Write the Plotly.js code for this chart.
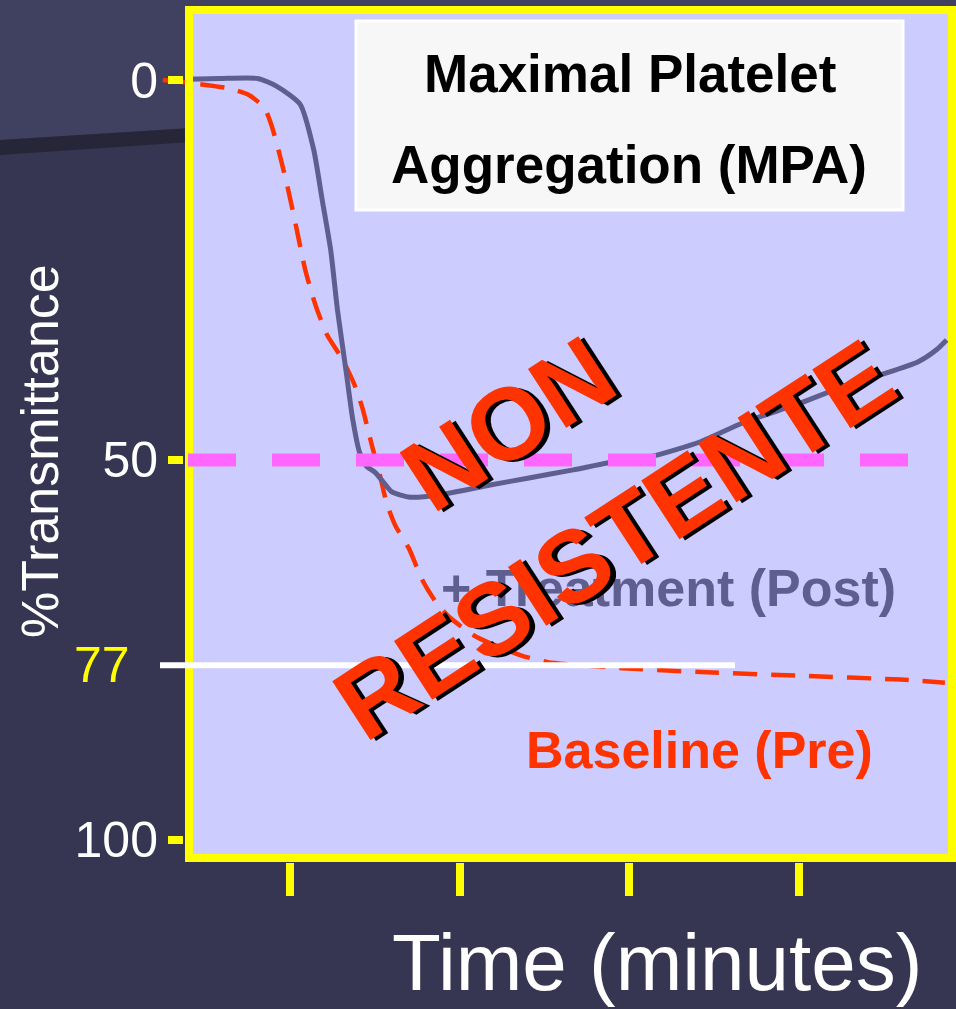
<!DOCTYPE html>
<html>
<head>
<meta charset="utf-8">
<script src="https://cdn.plot.ly/plotly-3.0.1.min.js"></script>
<style>
  html, body { margin: 0; padding: 0; background: #363552; }
  #chart { width: 956px; height: 1009px; }
</style>
</head>
<body>
<div id="chart"></div>
<script>
// Aggregometry traces: time in minutes, light transmittance in %
const postTime = [0.39, 0.59, 0.81, 0.92, 1.06, 1.14, 1.19, 1.24, 1.28, 1.33, 1.37, 1.41, 1.45, 1.50, 1.55, 1.60, 1.71, 1.88, 2.18, 2.40, 2.67, 2.87, 3.12, 3.42, 3.67, 4.01, 4.24, 4.48, 4.70, 4.81, 4.87];
const postTransmittance = [-0.1, -0.2, -0.2, 0.8, 3.2, 9.2, 15.8, 22.4, 30.3, 38.2, 44.7, 49.0, 50.8, 51.6, 52.9, 54.2, 54.9, 54.6, 53.3, 52.4, 51.3, 50.4, 49.6, 47.6, 45.1, 42.5, 40.5, 38.8, 37.1, 35.5, 34.2];

const preTime = [0.25, 0.38, 0.64, 0.76, 0.85, 0.89, 0.94, 0.99, 1.04, 1.09, 1.15, 1.22, 1.31, 1.38, 1.43, 1.46, 1.49, 1.53, 1.57, 1.62, 1.70, 1.78, 1.86, 1.94, 2.10, 2.36, 2.52, 2.71, 2.96, 3.42, 4.01, 4.60, 4.86];
const preTransmittance = [0.0, 0.3, 1.1, 2.0, 3.7, 5.9, 9.9, 14.5, 19.7, 25.0, 29.6, 33.6, 36.8, 40.1, 43.4, 46.1, 48.7, 52.0, 55.7, 58.6, 61.6, 65.8, 68.7, 70.7, 73.3, 75.7, 76.6, 77.0, 77.4, 77.9, 78.4, 78.9, 79.3];

const yTickValues = [0, 50, 100];
const yTickLabels = ['0', '50', '100'];
const xTickValues = [1, 2, 3, 4];
const halfLevel = 50;
const mpaLevel = 77;

const W = 956, H = 1009;
const M = { l: 160, r: 0, t: 6, b: 147 };
const PW = W - M.l - M.r, PH = H - M.t - M.b;
// pixel position -> paper fraction
const px = v => (v - M.l) / PW;
const py = v => (H - M.b - v) / PH;

const FONT = 'Liberation Sans, Arial, Helvetica, sans-serif';
const YELLOW = '#ffff00';
const SLATE = '#5f5f8f';
const RED = '#ff3300';

const traces = [
  {
    x: preTime, y: preTransmittance, type: 'scatter', mode: 'lines',
    name: 'Baseline (Pre)',
    line: { color: RED, width: 4.5, dash: '24px,14px', shape: 'spline', smoothing: 0.6 },
    hoverinfo: 'skip'
  },
  {
    x: postTime, y: postTransmittance, type: 'scatter', mode: 'lines',
    name: '+ Treatment (Post)',
    line: { color: SLATE, width: 5, shape: 'spline', smoothing: 0.6 },
    hoverinfo: 'skip'
  }
];

const shapes = [
  // slide backdrop: lighter upper panel and dark diagonal band
  { type: 'path', xref: 'paper', yref: 'paper', layer: 'below',
    path: `M ${px(0)} ${py(0)} L ${px(956)} ${py(0)} L ${px(956)} ${py(80)} L ${px(0)} ${py(140)} Z`,
    fillcolor: '#404060', line: { width: 0 } },
  { type: 'path', xref: 'paper', yref: 'paper', layer: 'below',
    path: `M ${px(0)} ${py(140)} L ${px(956)} ${py(80)} L ${px(956)} ${py(90)} L ${px(0)} ${py(155)} Z`,
    fillcolor: '#262638', line: { width: 0 } },
  // plot panel
  { type: 'rect', xref: 'paper', yref: 'paper', layer: 'below',
    x0: px(185), x1: 1, y0: 0, y1: 1,
    fillcolor: '#ccccff', line: { width: 0 } },
  { type: 'rect', xref: 'paper', yref: 'paper', layer: 'above',
    x0: px(189), x1: px(952), y0: py(858), y1: py(10),
    fillcolor: 'rgba(0,0,0,0)', line: { color: YELLOW, width: 8 } },
  // 50 % reference
  { type: 'line', xref: 'paper', yref: 'y', layer: 'above',
    x0: px(188), x1: px(908), y0: halfLevel, y1: halfLevel,
    line: { color: '#ff66ff', width: 13, dash: '48px,36px' } },
  // MPA level
  { type: 'line', xref: 'paper', yref: 'y', layer: 'above',
    x0: px(160), x1: px(735), y0: mpaLevel, y1: mpaLevel,
    line: { color: '#ffffff', width: 6 } },
  // title box
  { type: 'rect', xref: 'paper', yref: 'paper', layer: 'above',
    x0: px(356), x1: px(903), y0: py(210), y1: py(21),
    fillcolor: '#f7f7f7', line: { color: '#ffffff', width: 3 } }
];

const ann = (text, x, y, font, extra) => Object.assign({
  text, x: px(x), y: py(y), xref: 'paper', yref: 'paper',
  showarrow: false, xanchor: 'center', yanchor: 'middle',
  font: Object.assign({ family: FONT }, font)
}, extra || {});

const slogan = { size: 102, color: RED, weight: 'bold', shadow: '4px 4px 0px #000000' };

const annotations = [
  ann('Maximal Platelet', 630, 73, { size: 53, color: '#000000', weight: 'bold' }),
  ann('Aggregation (MPA)', 629, 165, { size: 53, color: '#000000', weight: 'bold' }),
  ann('%Transmittance', 40, 451, { size: 52, color: '#ffffff' }, { textangle: -90 }),
  ann('Time (minutes)', 657, 1009, { size: 80, color: '#ffffff' }, { yanchor: 'bottom' }),
  ann(String(mpaLevel), 102, 0, { size: 50, color: YELLOW }, { yref: 'y', y: mpaLevel }),
  ann('+ Treatment (Post)', 668, 588, { size: 52, color: SLATE, weight: 'bold' }),
  ann('Baseline (Pre)', 699, 750, { size: 52, color: RED, weight: 'bold' }),
  ann('NON', 508, 424, slogan, { textangle: -33 }),
  ann('RESISTENTE', 614, 540, slogan, { textangle: -33 })
];

const layout = {
  width: W, height: H,
  margin: M,
  paper_bgcolor: '#363552',
  plot_bgcolor: 'rgba(0,0,0,0)',
  showlegend: false,
  xaxis: {
    range: [0.2338, 4.9253],
    tickvals: xTickValues, showticklabels: false,
    ticks: 'outside', ticklen: 33, tickwidth: 8, tickcolor: YELLOW,
    showgrid: false, zeroline: false, showline: false, fixedrange: true
  },
  yaxis: {
    range: [102.9, -9.737],
    anchor: 'free', position: px(183),
    tickvals: yTickValues, ticktext: yTickLabels,
    ticks: 'outside', ticklen: 15, tickwidth: 8, tickcolor: YELLOW,
    ticklabelstandoff: 0,
    tickfont: { family: FONT, size: 50, color: '#ffffff' },
    showgrid: false, zeroline: false, showline: false, fixedrange: true
  },
  shapes, annotations
};

Plotly.newPlot('chart', traces, layout, { displayModeBar: false, staticPlot: true });
</script>
</body>
</html>
